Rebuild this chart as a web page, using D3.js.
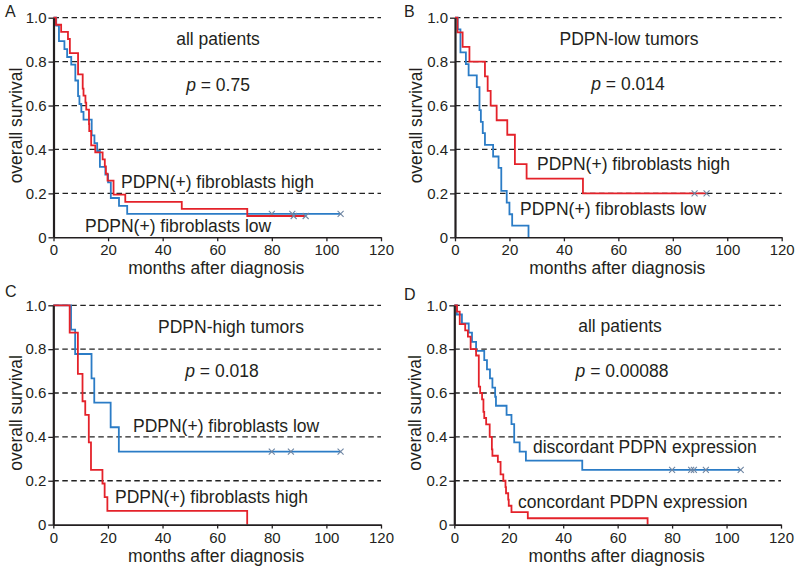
<!DOCTYPE html>
<html>
<head>
<meta charset="utf-8">
<script src="https://cdn.jsdelivr.net/npm/d3@7"></script>
<style>
  html, body { margin: 0; padding: 0; background: #fff; }
  svg { display: block; font-family: "Liberation Sans", Arial, sans-serif; }
</style>
</head>
<body>
<svg id="chart" width="800" height="578"></svg>
<script>
// ---------- data ----------
const xTicks = [0, 20, 40, 60, 80, 100, 120];
const yTicks = [0, 0.2, 0.4, 0.6, 0.8, 1.0];
const gridValues = [0.2, 0.4, 0.6, 0.8, 1.0];

// Panel A: all patients
const aHighT = [0, 0.9, 2.8, 5.3, 6, 9, 10.7, 11, 11.7, 12, 13, 13.1, 13.8, 15.3, 18, 18.8, 19.2, 19.8, 22, 26.3, 47, 71];
const aHighS = [1, 0.968, 0.935, 0.903, 0.839, 0.742, 0.677, 0.645, 0.613, 0.581, 0.516, 0.484, 0.419, 0.387, 0.355, 0.323, 0.290, 0.258, 0.194, 0.161, 0.129, 0.097];
const aHighCensor = [88, 92.4];
const aLowT = [0, 1, 2, 4, 5, 6.5, 8, 9, 9.5, 10.2, 11, 14, 15, 16, 17, 19, 20, 21, 24, 27];
const aLowS = [1, 0.964, 0.893, 0.857, 0.821, 0.786, 0.714, 0.643, 0.607, 0.571, 0.536, 0.464, 0.429, 0.393, 0.321, 0.286, 0.25, 0.179, 0.143, 0.107];
const aLowCensor = [80, 87.5, 105.2];

// Panel B: PDPN-low tumors
const bHighT = [0, 0.9, 2.8, 5.3, 11, 12, 13.1, 15.3, 19.2, 22, 26.3, 47];
const bHighS = [1, 0.933, 0.867, 0.8, 0.733, 0.667, 0.6, 0.533, 0.467, 0.333, 0.267, 0.2];
const bHighCensor = [88, 92.4];
const bLowT = [0, 1, 2, 4, 5, 8, 9, 9.5, 10.2, 11, 14, 16, 17, 19, 20, 21, 27];
const bLowS = [1, 0.947, 0.842, 0.789, 0.737, 0.684, 0.579, 0.526, 0.474, 0.421, 0.368, 0.316, 0.211, 0.158, 0.105, 0.053, 0];
const bLowCensor = [];

// Panel C: PDPN-high tumors
const cLowT = [0, 6.5, 8, 14, 15, 21, 24];
const cLowS = [1, 0.889, 0.778, 0.667, 0.556, 0.444, 0.333];
const cLowCensor = [80, 87, 105.2];
const cHighT = [0, 6, 9, 10.7, 11.7, 13, 13.8, 18, 18.8, 19.8, 71];
const cHighS = [1, 0.875, 0.6875, 0.5625, 0.5, 0.375, 0.25, 0.1875, 0.125, 0.0625, 0];
const cHighCensor = [];

// Panel D: all patients, concordance
const dDiscT = [0, 0.9, 2.8, 5.3, 6.5, 8, 11, 12, 13.1, 14, 15, 15.3, 19.2, 21, 22, 24, 26.3, 47];
const dDiscS = [1, 0.958, 0.917, 0.875, 0.833, 0.792, 0.75, 0.708, 0.667, 0.625, 0.583, 0.542, 0.5, 0.458, 0.375, 0.333, 0.292, 0.25];
const dDiscCensor = [80, 87, 88, 92.4, 105.2];
const dConcT = [0, 1, 2, 4, 5, 6, 8, 9, 9.5, 10.2, 10.7, 11, 11.7, 13, 13.8, 14, 16, 17, 18, 18.8, 19, 19.8, 20, 21, 27, 71];
const dConcS = [1, 0.971, 0.914, 0.886, 0.857, 0.8, 0.771, 0.629, 0.6, 0.571, 0.514, 0.486, 0.457, 0.4, 0.343, 0.314, 0.286, 0.229, 0.2, 0.171, 0.143, 0.114, 0.086, 0.057, 0.029, 0];
const dConcCensor = [];

// ---------- styling / layout ----------
const RED = "#e4222a";
const BLUE = "#2b7cc6";
const CENSOR = "#6f86a3";
const INK = "#231f20";
const FONT_BIG = 17.5;
const FONT_TICK = 15;

const panels = [
  { letter: "A", lx: 5, ly: 17, x0: 53.5, x1: 381, yTop: 17.7, yBot: 237.3, ytx: 21.5,
    title: "all patients", titleX: 218, titleY: 45, p: "0.75", pX: 218, pY: 91,
    series: [
      { T: aLowT, S: aLowS, censor: aLowCensor, color: BLUE },
      { T: aHighT, S: aHighS, censor: aHighCensor, color: RED }
    ],
    labels: [
      { text: "PDPN(+) fibroblasts high", x: 121, y: 188 },
      { text: "PDPN(+) fibroblasts low", x: 85, y: 232 }
    ] },
  { letter: "B", lx: 404, ly: 17, x0: 455, x1: 781.7, yTop: 17.7, yBot: 237.3, ytx: 421.7,
    title: "PDPN-low tumors", titleX: 629, titleY: 45, p: "0.014", pX: 628, pY: 90,
    series: [
      { T: bLowT, S: bLowS, censor: bLowCensor, color: BLUE },
      { T: bHighT, S: bHighS, censor: bHighCensor, color: RED }
    ],
    labels: [
      { text: "PDPN(+) fibroblasts high", x: 537, y: 170 },
      { text: "PDPN(+) fibroblasts low", x: 520, y: 215 }
    ] },
  { letter: "C", lx: 5, ly: 297, x0: 53.3, x1: 381, yTop: 305.3, yBot: 524.6, ytx: 21.5,
    title: "PDPN-high tumors", titleX: 231, titleY: 333, p: "0.018", pX: 222, pY: 377,
    series: [
      { T: cLowT, S: cLowS, censor: cLowCensor, color: BLUE },
      { T: cHighT, S: cHighS, censor: cHighCensor, color: RED }
    ],
    labels: [
      { text: "PDPN(+) fibroblasts low", x: 133, y: 432 },
      { text: "PDPN(+) fibroblasts high", x: 115, y: 503 }
    ] },
  { letter: "D", lx: 404, ly: 300, x0: 454.3, x1: 781, yTop: 305.3, yBot: 524.6, ytx: 421,
    title: "all patients", titleX: 620, titleY: 332, p: "0.00088", pX: 622, pY: 377,
    series: [
      { T: dDiscT, S: dDiscS, censor: dDiscCensor, color: BLUE },
      { T: dConcT, S: dConcS, censor: dConcCensor, color: RED }
    ],
    labels: [
      { text: "discordant PDPN expression", x: 533, y: 453 },
      { text: "concordant PDPN expression", x: 518, y: 508 }
    ] }
];

const svg = d3.select("#chart");

panels.forEach(P => {
  const g = svg.append("g");
  const x = d3.scaleLinear().domain([0, 120]).range([P.x0, P.x1]);
  const y = d3.scaleLinear().domain([0, 1]).range([P.yBot, P.yTop]);

  // dashed gridlines
  g.selectAll("line.grid").data(gridValues).enter().append("line")
    .attr("x1", P.x0).attr("x2", P.x1)
    .attr("y1", d => y(d)).attr("y2", d => y(d))
    .attr("stroke", "#222").attr("stroke-width", 1.3)
    .attr("stroke-dasharray", "5.5,3.5");

  // survival curves
  const line = d3.line().x(d => x(d[0])).y(d => y(d[1])).curve(d3.curveStepAfter);
  P.series.forEach(s => {
    const pts = s.T.map((t, i) => [t, s.S[i]]);
    const last = s.S[s.S.length - 1];
    if (s.censor.length) pts.push([d3.max(s.censor), last]);
    g.append("path").datum(pts)
      .attr("d", line).attr("fill", "none")
      .attr("stroke", s.color).attr("stroke-width", 1.8)
      .attr("stroke-linejoin", "miter");
    g.selectAll(null).data(s.censor).enter().append("path")
      .attr("transform", d => `translate(${x(d)},${y(last)})`)
      .attr("d", "M-3,-3L3,3M-3,3L3,-3")
      .attr("stroke", CENSOR).attr("stroke-width", 1.1).attr("fill", "none");
  });

  // axes
  const xAxis = d3.axisBottom(x).tickValues(xTicks).tickFormat(d3.format("d"))
    .tickSize(4).tickSizeOuter(0).tickPadding(3.5);
  const gx = g.append("g").attr("transform", `translate(0,${P.yBot})`).call(xAxis);
  gx.select(".domain").attr("stroke", INK).attr("stroke-width", 1.6);
  gx.selectAll(".tick line").attr("stroke", INK).attr("stroke-width", 1.3);
  gx.selectAll(".tick text").attr("fill", INK)
    .style("font-size", FONT_TICK + "px").style("font-family", "Liberation Sans, Arial, sans-serif");

  const yAxis = d3.axisLeft(y).tickValues(yTicks)
    .tickFormat(d => d === 0 ? "0" : d3.format(".1f")(d))
    .tickSize(5).tickSizeOuter(0).tickPadding(2);
  const gy = g.append("g").attr("transform", `translate(${P.x0},0)`).call(yAxis);
  gy.select(".domain").attr("stroke", INK).attr("stroke-width", 2.2);
  gy.selectAll(".tick line").attr("stroke", INK).attr("stroke-width", 1.3);
  gy.selectAll(".tick text").attr("fill", INK)
    .style("font-size", FONT_TICK + "px").style("font-family", "Liberation Sans, Arial, sans-serif");

  // axis titles
  g.append("text")
    .attr("x", (P.x0 + P.x1) / 2 - 1).attr("y", P.yBot + 37)
    .attr("text-anchor", "middle").attr("fill", INK)
    .style("font-size", FONT_BIG + "px")
    .text("months after diagnosis");
  g.append("text")
    .attr("transform", `translate(${P.ytx},${(P.yTop + P.yBot) / 2 - 2}) rotate(-90)`)
    .attr("text-anchor", "middle").attr("fill", INK)
    .style("font-size", FONT_BIG + "px")
    .text("overall survival");

  // panel letter
  g.append("text").attr("x", P.lx).attr("y", P.ly).attr("fill", INK)
    .style("font-size", "16px").text(P.letter);

  // title and p value
  g.append("text").attr("x", P.titleX).attr("y", P.titleY)
    .attr("text-anchor", "middle").attr("fill", INK)
    .style("font-size", FONT_BIG + "px").text(P.title);
  const pt = g.append("text").attr("x", P.pX).attr("y", P.pY)
    .attr("text-anchor", "middle").attr("fill", INK)
    .style("font-size", FONT_BIG + "px");
  pt.append("tspan").style("font-style", "italic").text("p");
  pt.append("tspan").text(" = " + P.p);

  // series labels
  P.labels.forEach(L => {
    g.append("text").attr("x", L.x).attr("y", L.y).attr("fill", INK)
      .style("font-size", FONT_BIG + "px").text(L.text);
  });
});
</script>
</body>
</html>
